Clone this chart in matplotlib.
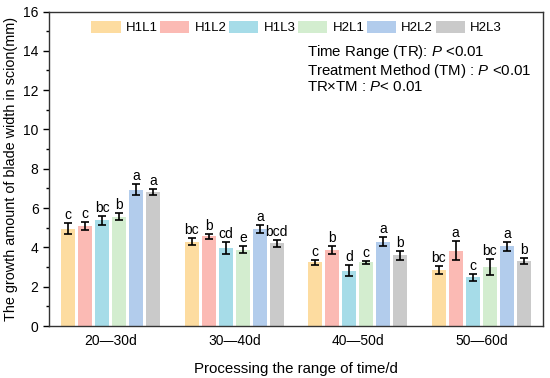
import matplotlib
matplotlib.use("Agg")
import matplotlib.pyplot as plt
import numpy as np
from matplotlib.ticker import MultipleLocator

plt.rcParams['font.family'] = ['Liberation Sans', 'DejaVu Sans']
plt.rcParams['mathtext.fontset'] = 'custom'
plt.rcParams['mathtext.it'] = 'Liberation Sans:italic'
plt.rcParams['mathtext.rm'] = 'Liberation Sans'

groups = ["20\u201430d", "30\u201440d", "40\u201450d", "50\u201460d"]
series = ["H1L1", "H1L2", "H1L3", "H2L1", "H2L2", "H2L3"]
colors = ["#FDDCA0", "#FBBAB4", "#A6DCE8", "#D3EDCF", "#B2CCEC", "#CACACA"]

H1L1 = [4.96, 4.28, 3.25, 2.86]
H1L2 = [5.09, 4.57, 3.86, 3.83]
H1L3 = [5.38, 3.96, 2.81, 2.47]
H2L1 = [5.57, 3.89, 3.25, 3.00]
H2L2 = [6.94, 4.94, 4.28, 4.06]
H2L3 = [6.82, 4.21, 3.60, 3.30]

E_H1L1 = [0.30, 0.18, 0.13, 0.20]
E_H1L2 = [0.19, 0.13, 0.20, 0.47]
E_H1L3 = [0.24, 0.31, 0.28, 0.17]
E_H2L1 = [0.20, 0.17, 0.08, 0.41]
E_H2L2 = [0.26, 0.20, 0.23, 0.22]
E_H2L3 = [0.14, 0.18, 0.22, 0.15]

L_H1L1 = ["c", "bc", "c", "bc"]
L_H1L2 = ["c", "b", "b", "a"]
L_H1L3 = ["bc", "cd", "d", "c"]
L_H2L1 = ["b", "e", "c", "bc"]
L_H2L2 = ["a", "a", "a", "a"]
L_H2L3 = ["a", "bcd", "b", "b"]

values = [H1L1, H1L2, H1L3, H2L1, H2L2, H2L3]
errors = [E_H1L1, E_H1L2, E_H1L3, E_H2L1, E_H2L2, E_H2L3]
letters = [L_H1L1, L_H1L2, L_H1L3, L_H2L1, L_H2L2, L_H2L3]

stats_lines = ["Time Range (TR): $P$ <0.01",
               "Treatment Method (TM) : $P$ <0.01",
               "TR\u00d7TM : $P$< 0.01"]

fig = plt.figure(figsize=(5.5, 3.78), dpi=100)
ax = fig.add_axes([49/550, 1-326/378, (543-49)/550, (326-11.5)/378])

x = np.arange(len(groups))
step = 0.138
width = 0.112
for i, s in enumerate(series):
    pos = x + (i - 2.5) * step
    ax.bar(pos, values[i], width=width, color=colors[i], label=s, zorder=2)
    ax.errorbar(pos, values[i], yerr=errors[i], fmt='none', ecolor='black',
                elinewidth=1.2, capsize=2.8, capthick=1.2, zorder=3)
    for j in range(len(groups)):
        ax.text(pos[j], values[i][j] + errors[i][j] + 0.05, letters[i][j],
                ha='center', va='bottom', fontsize=10)

ax.set_xlim(-0.5, 3.5)
ax.set_ylim(0, 16)
ax.set_xticks(x)
ax.set_xticklabels(groups, fontsize=10)
ax.tick_params(axis='x', length=0, pad=6)
ax.yaxis.set_major_locator(MultipleLocator(2))
ax.yaxis.set_minor_locator(MultipleLocator(1))
ax.tick_params(axis='y', which='major', length=4, width=1, labelsize=10, direction='out')
ax.tick_params(axis='y', which='minor', length=2, width=1, direction='out')
for sp in ax.spines.values():
    sp.set_linewidth(1.0)
    sp.set_color('#333333')

ax.set_ylabel("The growth amount of blade width in scion(mm)", fontsize=10.4)
ax.set_xlabel("Processing the range of time/d", fontsize=10.8, labelpad=10)

ax.legend(loc='upper left', bbox_to_anchor=(0.07, 0.995), ncol=6, frameon=False,
          fontsize=9.5, handlelength=2.2, handleheight=1.0, columnspacing=0.2,
          handletextpad=0.4, borderaxespad=0.2)

for k, yy in enumerate([0.871, 0.811, 0.760]):
    ax.text(0.523, yy, stats_lines[k], transform=ax.transAxes,
            fontsize=10.8, va='center', ha='left')

fig.savefig("out.png", dpi=100)
